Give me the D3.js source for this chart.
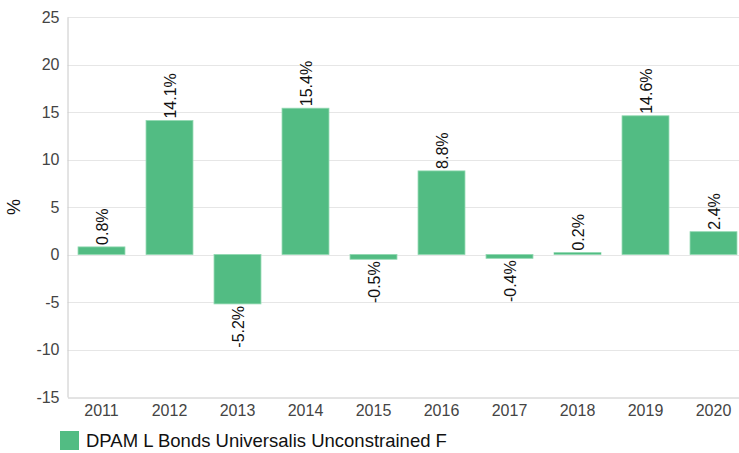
<!DOCTYPE html>
<html><head><meta charset="utf-8">
<script src="https://cdn.jsdelivr.net/npm/d3@7"></script>
<style>
body{margin:0;background:#fff;overflow:hidden}
svg{font-family:Arial,"Liberation Sans",sans-serif;display:block}
</style></head><body>
<svg id="c" width="739" height="453"></svg>
<script>
const categories = ["2011","2012","2013","2014","2015","2016","2017","2018","2019","2020"];
const values = [0.8, 14.1, -5.2, 15.4, -0.5, 8.8, -0.4, 0.2, 14.6, 2.4];
const yTicks = [-15,-10,-5,0,5,10,15,20,25];
const seriesName = "DPAM L Bonds Universalis Unconstrained F";
const yTitle = "%";

(function(){
const FONT = "Arial,'Liberation Sans',sans-serif";
const svg = d3.select("#c");
const mLeft = 67.5, mRight = 747.5, mTop = 17, mBottom = 397;
const x = d3.scaleBand().domain(categories).range([mLeft, mRight]).paddingInner(0.31).paddingOuter(0.155);
const y = d3.scaleLinear().domain([-15, 25]).range([mBottom, mTop]);
const color = "#52bc83";

// gridlines
svg.append("g").selectAll("line").data(yTicks.filter(d => d !== -15)).join("line")
  .attr("x1", mLeft).attr("x2", mRight)
  .attr("y1", d => Math.round(y(d)) + 0.5).attr("y2", d => Math.round(y(d)) + 0.5)
  .attr("stroke", "#e6e6e6").attr("stroke-width", 1);

// y axis
const yAxis = svg.append("g").attr("transform", `translate(${mLeft},0)`)
  .call(d3.axisLeft(y).tickValues(yTicks).tickFormat(d => String(d)).tickSize(0).tickPadding(8));
yAxis.attr("font-size", null).attr("font-family", null);
yAxis.select(".domain").attr("stroke", "#c8c8c8");
yAxis.selectAll("text").style("font-size", "16px").attr("fill", "#444").style("font-family", FONT);

// x axis
const xAxis = svg.append("g").attr("transform", `translate(0,${Math.round(y(-15)) + 0.5})`)
  .call(d3.axisBottom(x).tickSize(0).tickPadding(7));
xAxis.attr("font-size", null).attr("font-family", null);
xAxis.select(".domain").attr("stroke", "#c8c8c8");
xAxis.selectAll("text").style("font-size", "16px").attr("fill", "#444").style("font-family", FONT);

// bars
svg.append("g").selectAll("rect").data(values).join("rect")
  .attr("x", (d, i) => x(categories[i]))
  .attr("width", x.bandwidth())
  .attr("y", d => y(Math.max(0, d)))
  .attr("height", d => Math.abs(y(d) - y(0)))
  .attr("fill", color).attr("stroke", "#8fd8b0").attr("stroke-width", 0.8);

// value labels
svg.append("g").selectAll("text").data(values).join("text")
  .attr("transform", (d, i) => {
    const cx = x(categories[i]) + x.bandwidth() / 2;
    const yy = d >= 0 ? y(d) - 2 : y(d) + 2;
    return `translate(${cx + 6},${yy}) rotate(-90)`;
  })
  .attr("text-anchor", d => d >= 0 ? "start" : "end")
  .style("font-size", "16px").style("font-family", FONT).attr("fill", "#111")
  .text(d => d.toFixed(1) + "%");

// y title
svg.append("text").attr("transform", "translate(20,207) rotate(-90)")
  .attr("text-anchor", "middle").style("font-size", "18px").style("font-family", FONT).attr("fill", "#111").text(yTitle);

// legend
svg.append("rect").attr("x", 60).attr("y", 431).attr("width", 19).attr("height", 19).attr("fill", color);
svg.append("text").attr("x", 86).attr("y", 447).style("font-size", "18.5px").style("font-family", FONT).attr("fill", "#111").text(seriesName);
})();
</script>
</body></html>
